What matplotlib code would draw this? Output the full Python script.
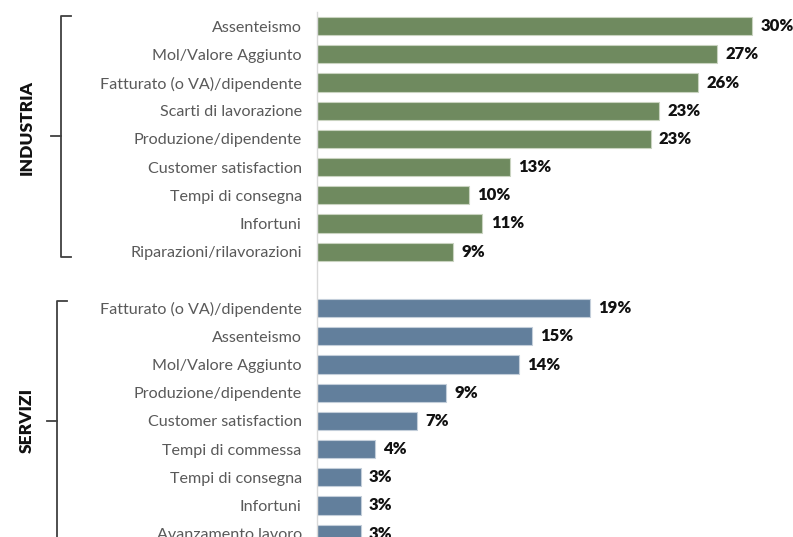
"""Bar chart of indicators by sector (Industria / Servizi)."""

import matplotlib
matplotlib.use("Agg")
import matplotlib.pyplot as plt
from matplotlib.lines import Line2D
from matplotlib.transforms import blended_transform_factory
import numpy as np

# --- data ---
industria_labels = [
    "Assenteismo",
    "Mol/Valore Aggiunto",
    "Fatturato (o VA)/dipendente",
    "Scarti di lavorazione",
    "Produzione/dipendente",
    "Customer satisfaction",
    "Tempi di consegna",
    "Infortuni",
    "Riparazioni/rilavorazioni",
]
industria_values = [30.0, 27.6, 26.3, 23.6, 23.0, 13.3, 10.5, 11.4, 9.4]
industria_text = ["30%", "27%", "26%", "23%", "23%", "13%", "10%", "11%", "9%"]

servizi_labels = [
    "Fatturato (o VA)/dipendente",
    "Assenteismo",
    "Mol/Valore Aggiunto",
    "Produzione/dipendente",
    "Customer satisfaction",
    "Tempi di commessa",
    "Tempi di consegna",
    "Infortuni",
    "Avanzamento lavoro",
]
servizi_values = [18.8, 14.8, 13.9, 8.9, 6.9, 4.0, 3.0, 3.0, 3.0]
servizi_text = ["19%", "15%", "14%", "9%", "7%", "4%", "3%", "3%", "3%"]

groups = ["INDUSTRIA", "SERVIZI"]
colors = {"INDUSTRIA": "#6F8A5F", "SERVIZI": "#627F9C"}
edge_colors = {"INDUSTRIA": "#C9D3C0", "SERVIZI": "#C3CEDA"}

plt.rcParams["font.family"] = ["Lato", "DejaVu Sans"]

W, H = 793, 537
fig = plt.figure(figsize=(W / 100, H / 100), dpi=100)

# axes placed so that the bars line up with the reference (bottom is cut off)
ax_left = 317 / W
ax_top = 1 - 12 / H
ax = fig.add_axes([ax_left, 0, 1 - ax_left, ax_top])

row_px = 28.2
px_per_pct = 14.5

pos_ind = np.arange(len(industria_values))
pos_ser = np.arange(len(servizi_values)) + len(industria_values) + 1

for name, pos, vals, texts, labs in [
    ("INDUSTRIA", pos_ind, industria_values, industria_text, industria_labels),
    ("SERVIZI", pos_ser, servizi_values, servizi_text, servizi_labels),
]:
    ax.barh(pos, vals, height=0.65, color=colors[name],
            edgecolor=edge_colors[name], linewidth=0.8)
    for p, v, t in zip(pos, vals, texts):
        ax.annotate(t, (v, p), xytext=(6, 0), textcoords="offset points",
                    va="center", ha="left", fontsize=12, fontweight="heavy",
                    color="#111111")

ax.set_yticks(np.concatenate([pos_ind, pos_ser]))
ax.set_yticklabels(industria_labels + servizi_labels, fontsize=11.6, color="#595959")
ax.tick_params(axis="y", length=0, pad=11)
ax.tick_params(axis="x", bottom=False, labelbottom=False)

ax.set_ylim(-0.5 + (H - 12) / row_px, -0.5)
ax.set_xlim(0, (W - 317) / px_per_pct)

for s in ["top", "right", "bottom"]:
    ax.spines[s].set_visible(False)
ax.spines["left"].set_color("#D9D9D9")
ax.spines["left"].set_linewidth(1.0)

# --- brackets and group labels ---
trans = blended_transform_factory(fig.transFigure, ax.transData)
bracket_color = "#404040"


def bracket(x_px, y0, y1, ymid, bottom_tick=True):
    x = x_px / W
    tick = 10 / W
    xs = [x + tick, x, x] + ([x + tick] if bottom_tick else [])
    ys = [y0, y0, y1] + ([y1] if bottom_tick else [])
    fig.add_artist(Line2D(xs, ys, transform=trans, color=bracket_color, lw=1.3,
                          solid_joinstyle="round"))
    fig.add_artist(Line2D([x, x - tick], [ymid, ymid], transform=trans,
                          color=bracket_color, lw=1.3))


bracket(61, pos_ind[0] - 0.35, pos_ind[-1] + 0.2, pos_ind.mean() - 0.1)
bracket(57, pos_ser[0] - 0.25, pos_ser[-1] + 2, pos_ser.mean())

fig.text(27 / W, pos_ind.mean() - 0.4, groups[0], transform=trans, rotation=90,
         ha="center", va="center", fontsize=12.5, fontweight="heavy", color="#111111")
fig.text(27 / W, pos_ser.mean(), groups[1], transform=trans, rotation=90,
         ha="center", va="center", fontsize=12.5, fontweight="heavy", color="#111111")

fig.savefig("out.png", dpi=100)
